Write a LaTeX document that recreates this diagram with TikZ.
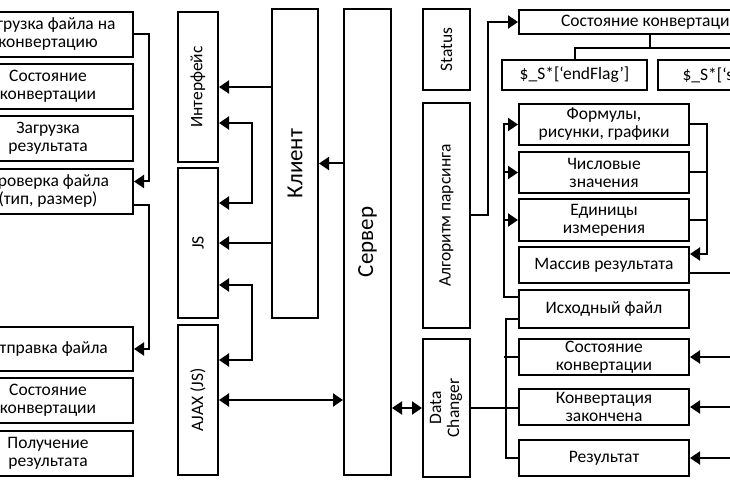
\documentclass[tikz,border=0pt]{standalone}
\usepackage{fontspec}
\setmainfont{Carlito}
\usepackage{graphicx}
\usetikzlibrary{arrows.meta}

\begin{document}
\begin{tikzpicture}[x=1pt,y=-1pt,
    every node/.style={draw,line width=2pt,inner sep=0pt,align=center,
      font=\fontsize{17.5}{18}\selectfont},
    box/.style 2 args={minimum width=#1pt,minimum height=#2pt},
    big/.style={font=\fontsize{23}{26}\selectfont},
    link/.style={line width=2pt},
    arr/.style={link,-{Triangle[length=10pt,width=13pt]}},
    dblarr/.style={link,{Triangle[length=10pt,width=13pt]}-{Triangle[length=10pt,width=13pt]}}]
  \fill[white] (0,0) rectangle (730,486);
  \useasboundingbox (0,0) rectangle (730,486);
  \clip (0,0) rectangle (730,486);
  % client side steps
  \draw
    (48,34.5) node[box={170}{45}] (L1) {Загрузка файла на\\конвертацию}
    (48,86.5) node[box={170}{45}] (L2) {Состояние\\конвертации}
    (48,138.5) node[box={170}{45}] (L3) {Загрузка\\результата}
    (48,191.5) node[box={170}{45}] (L4) {Проверка файла\\(тип, размер)}
    (48,349) node[box={170}{44}] (L5) {Отправка файла}
    (48,400.5) node[box={170}{45}] (L6) {Состояние\\конвертации}
    (48,453.5) node[box={170}{45}] (L7) {Получение\\результата};
  % client and server
  \draw
    (198,87) node[box={40}{150}] (Int) {\rotatebox{90}{Интерфейс}}
    (198,243) node[box={40}{150}] (JS) {\rotatebox{90}{JS}}
    (198,400) node[box={40}{150}] (Ajax) {\rotatebox{90}{AJAX (JS)}}
    (295,163.5) node[box={46}{309},big] (Client) {\rotatebox{90}{Клиент}}
    (367.5,242) node[box={47}{466},big] (Server) {\rotatebox{90}{Сервер}};
  % server modules
  \draw
    (446.5,49.5) node[box={47}{81}] (Status) {\rotatebox{90}{Status}}
    (446.5,215.5) node[box={47}{225}] (Parser) {\rotatebox{90}{Алгоритм парсинга}}
    (446.5,408) node[box={47}{138}] (DC) {\rotatebox{90}{\begin{tabular}{@{}c@{}}Data\\Changer\end{tabular}}};
  \draw
    (650,22) node[box={262}{24}] (StateTop) {Состояние конвертации}
    (574.5,75) node[box={145}{30}] (EndFlag) {\$\_S*[‘endFlag’]}
    (730.5,75) node[box={145}{30}] (StatFlag) {\$\_S*[‘status’]}
    (604,124.5) node[box={170}{41}] (Formula) {Формулы,\\рисунки, графики}
    (604,172.5) node[box={170}{41}] (Numbers) {Числовые\\значения}
    (604,220) node[box={170}{42}] (Units) {Единицы\\измерения}
    (604,265) node[box={170}{36}] (Result) {Массив результата}
    (604,309) node[box={170}{38}] (Source) {Исходный файл}
    (604,357) node[box={170}{36}] (State) {Состояние\\конвертации}
    (604,407) node[box={170}{36}] (Done) {Конвертация\\закончена}
    (604,458) node[box={170}{36}] (Res) {Результат};
  % left connectors
  \draw[arr] (L1.east) -- ++(15,0) |- ([yshift=10pt]L4.east);
  \draw[arr] ([yshift=-13.5pt]L4.east) -- ++(15,0) |- (L5.east);
  % client connectors
  \draw[arr] (Client.west |- Int.east) -- (Int.east);
  \draw[arr] (Client.west |- JS.east) -- (JS.east);
  \draw[arr] (Server.west |- Client.east) -- (Client.east);
  \draw[dblarr] ([yshift=-36pt]Int.east) -- ++(33,0) |- ([yshift=40pt]JS.east);
  \draw[dblarr] ([yshift=-42pt]JS.east) -- ++(33,0) |- ([yshift=40pt]Ajax.east);
  \draw[dblarr] (Ajax.east) -- (Server.west |- Ajax.east);
  \draw[dblarr] (Server.east |- DC.west) -- (DC.west);
  % parser
  \draw[arr] (Parser.east) -- ++(17,0) |- (StateTop.west);
  \draw[link] (StateTop.south) -- ++(0,13) -| (EndFlag.north);
  \draw[link] (StateTop.south) -- ++(0,13) -| (StatFlag.north);
  \draw[arr] ([yshift=12pt]Source.west) -- ++(-14,0) |- (Formula.west);
  \draw[arr] ([xshift=-14pt]Numbers.west) -- (Numbers.west);
  \draw[arr] ([xshift=-14pt]Units.west) -- (Units.west);
  \draw[arr] (Formula.east) -- ++(17,0) |- ([yshift=11pt]Result.east);
  \draw[link] (Numbers.east) -- ++(17,0);
  \draw[link] (Units.east) -- ++(17,0);
  \draw[link] ([yshift=-8pt]Result.east) -- ++(60,0);
  % data changer
  \draw[link] (DC.east) -- ++(35,0) |- ([yshift=-10pt]Source.west);
  \draw[link] (DC.east) -- ++(35,0) |- (Res.west);
  \draw[link] ([xshift=-14pt]State.west) -- (State.west);
  \draw[link] (DC.east) -- (DC.east -| Done.west);
  \draw[arr] ([xshift=50pt]State.east) -- (State.east);
  \draw[arr] ([xshift=50pt]Done.east) -- (Done.east);
  \draw[arr] ([xshift=50pt]Res.east) -- (Res.east);
\end{tikzpicture}
\end{document}
